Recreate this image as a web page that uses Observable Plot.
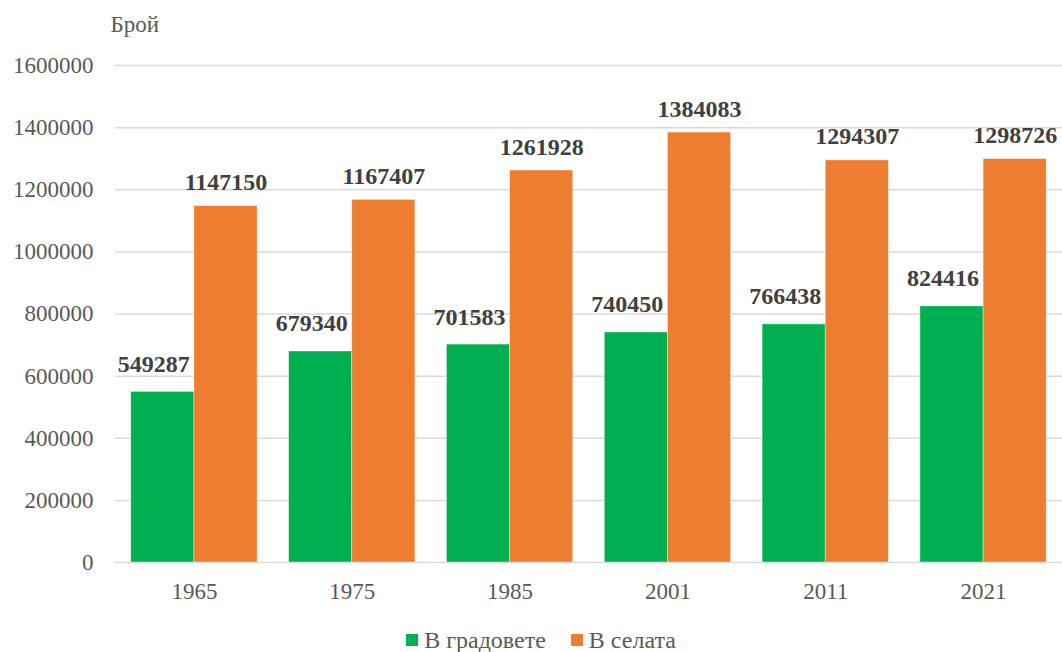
<!DOCTYPE html>
<html>
<head>
<meta charset="utf-8">
<script src="https://cdn.jsdelivr.net/npm/d3@7"></script>
<script src="https://cdn.jsdelivr.net/npm/@observablehq/plot@0.6"></script>
<style>
  body { margin: 0; background: #fff; font-family: "Liberation Serif", "Times New Roman", serif; }
  svg, svg text { font-family: "Liberation Serif", "Times New Roman", serif !important; }
  #legend { display: flex; justify-content: center; align-items: center; gap: 25px; font-size: 24px; color: #595959; height: 28px; padding-left: 20px; }
  #legend .item { display: flex; align-items: center; gap: 6px; }
  #legend .sw { width: 12px; height: 12px; display: inline-block; }
</style>
</head>
<body>
<div id="chart"></div>
<div id="legend"></div>
<script>
const years = ["1965", "1975", "1985", "2001", "2011", "2021"];
const seriesNames = ["В градовете", "В селата"];
const towns = [549287, 679340, 701583, 740450, 766438, 824416];
const villages = [1147150, 1167407, 1261928, 1384083, 1294307, 1298726];
const colors = ["#00B050", "#ED7D31"];
const yTicks = [0, 200000, 400000, 600000, 800000, 1000000, 1200000, 1400000, 1600000];
const yLabel = "Брой";

const townsData = years.map((y, i) => ({year: y, series: seriesNames[0], value: towns[i]}));
const villData = years.map((y, i) => ({year: y, series: seriesNames[1], value: villages[i]}));

const FONT = "Liberation Serif";
const W = 1062, ML = 115, MR = 0, PIN = 0.2, POUT = 0.1;
const step = (W - ML - MR) / (years.length - PIN + 2 * POUT);
const half = step * (1 - PIN) / 2;

const chart = Plot.plot({
  width: W,
  height: 626,
  marginLeft: ML,
  marginRight: MR,
  marginTop: 65,
  marginBottom: 64,
  style: { fontFamily: FONT, fontSize: "23px", color: "#595959", background: "#fff" },
  x: { domain: years, paddingInner: PIN, paddingOuter: POUT, round: false, label: null },
  y: { domain: [0, 1600000], label: null },
  color: { domain: seriesNames, range: colors },
  marks: [
    Plot.gridY(yTicks, { stroke: "#d9d9d9", strokeOpacity: 1, strokeWidth: 1.5 }),
    Plot.axisY(yTicks, { tickSize: 0, tickPadding: 22, tickFormat: d => String(d), fontSize: 23, fontFamily: FONT, fill: "#595959", label: null }),
    Plot.axisX({ tickSize: 0, tickPadding: 20, fontSize: 23, fontFamily: FONT, fill: "#595959", label: null }),
    Plot.barY(townsData, { x: "year", y: "value", fill: "series", insetRight: half, stroke: "#ffffff", strokeOpacity: 0.5, strokeWidth: 0.75 }),
    Plot.barY(villData, { x: "year", y: "value", fill: "series", insetLeft: half, stroke: "#ffffff", strokeOpacity: 0.5, strokeWidth: 0.75 }),
    Plot.text(townsData, { x: "year", y: "value", text: d => String(d.value), lineAnchor: "bottom", dy: -20, dx: -half / 2 - 9, fontWeight: "bold", fontSize: 24, fontFamily: FONT, fill: "#404040" }),
    Plot.text(villData, { x: "year", y: "value", text: d => String(d.value), lineAnchor: "bottom", dy: -16, dx: half / 2, fontWeight: "bold", fontSize: 24, fontFamily: FONT, fill: "#404040" }),
    Plot.text([yLabel], { frameAnchor: "top-left", text: d => d, textAnchor: "start", lineAnchor: "middle", dx: -5, dy: -41, fontSize: 23, fontFamily: FONT, fill: "#595959" })
  ]
});
document.getElementById("chart").appendChild(chart);

const legend = document.getElementById("legend");
seriesNames.forEach((s, i) => {
  const item = document.createElement("div");
  item.className = "item";
  const sw = document.createElement("span");
  sw.className = "sw";
  sw.style.background = colors[i];
  const t = document.createElement("span");
  t.textContent = s;
  item.appendChild(sw);
  item.appendChild(t);
  legend.appendChild(item);
});
</script>
</body>
</html>
